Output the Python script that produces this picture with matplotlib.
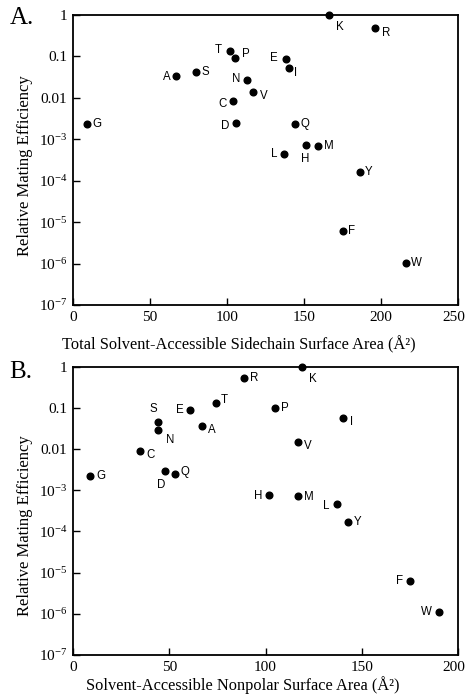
import matplotlib
matplotlib.use("Agg")
import matplotlib.pyplot as plt
import matplotlib.transforms as mtransforms
import numpy as np

# Data: amino acid, surface area (Å²), relative mating efficiency
residues_a = ["K", "R", "T", "P", "E", "I", "S", "A", "N", "V",
              "C", "G", "D", "Q", "H", "M", "L", "Y", "F", "W"]
area_total = [166, 196, 102, 105, 138, 140, 80, 67, 113, 117,
              104, 9, 106, 144, 151, 159, 137, 186, 175, 216]
eff_a = [1.0, 0.49, 0.135, 0.092, 0.085, 0.053, 0.043, 0.034, 0.027, 0.014,
         0.0085, 0.0023, 0.0025, 0.0023, 7.2e-4, 6.9e-4, 4.3e-4, 1.6e-4, 6.2e-6, 1.05e-6]

residues_b = ["K", "R", "T", "E", "P", "I", "S", "A", "N", "V",
              "C", "G", "D", "Q", "H", "M", "L", "Y", "F", "W"]
area_nonpolar = [119, 89, 74, 61, 105, 140, 44, 67, 44, 117,
                 35, 9, 48, 53, 102, 117, 137, 143, 175, 190]
eff_b = [1.0, 0.52, 0.134, 0.089, 0.098, 0.058, 0.046, 0.036, 0.029, 0.015,
         0.0091, 0.0022, 0.0029, 0.0025, 7.7e-4, 7.2e-4, 4.6e-4, 1.65e-4, 6.4e-6, 1.1e-6]

yticks = [1e-7, 1e-6, 1e-5, 1e-4, 1e-3, 1e-2, 1e-1, 1]
ytick_labels = [r"$10^{-7}$", r"$10^{-6}$", r"$10^{-5}$", r"$10^{-4}$", r"$10^{-3}$",
                "0.01", "0.1", "1"]

# label offsets (points) and alignment for each letter
offs_a = {"K": (5, -9, "left"), "R": (5, -4, "left"), "T": (-6, 1, "right"),
          "P": (5, 3, "left"), "E": (-6, 1, "right"), "I": (4, -4, "left"),
          "S": (4, 0, "left"), "A": (-4, -1, "right"), "N": (-5, 1, "right"),
          "V": (5, -3, "left"), "C": (-5, -2, "right"), "G": (4, 0, "left"),
          "D": (-5, -2, "right"), "Q": (4, 0, "left"), "H": (0, -10, "center"),
          "M": (4, 0, "left"), "L": (-5, 0, "right"), "Y": (4, 0, "left"),
          "F": (4, 0, "left"), "W": (4, 0, "left")}
offs_b = {"K": (5, -9, "left"), "R": (4, 0, "left"), "T": (4, 2, "left"),
          "E": (-5, 0, "right"), "P": (4, 0, "left"), "I": (5, -3, "left"),
          "S": (-3, 9, "center"), "A": (4, -3, "left"), "N": (6, -7, "left"),
          "V": (4, -3, "left"), "C": (4, -3, "left"), "G": (4, 0, "left"),
          "D": (-3, -10, "center"), "Q": (4, 1, "left"), "H": (-5, -1, "right"),
          "M": (4, -1, "left"), "L": (-5, -1, "right"), "Y": (4, 0, "left"),
          "F": (-5, 0, "right"), "W": (-5, 0, "right")}

plt.rcParams["font.family"] = ["Liberation Serif", "DejaVu Serif"]
plt.rcParams["mathtext.fontset"] = "custom"
plt.rcParams["mathtext.rm"] = "Liberation Serif"
plt.rcParams["mathtext.it"] = "Liberation Serif"

fig = plt.figure(figsize=(4.68, 7.0), dpi=100)
ax_a = fig.add_axes([0.156, 0.5643, 0.823, 0.4143])
ax_b = fig.add_axes([0.156, 0.0643, 0.823, 0.4119])


def panel(ax, names, xs, ys, offs, xmax, xlabel, tag, xlab_pos, ylab_y, tag_y):
    ax.plot(xs, ys, "o", color="black", markersize=4.8, clip_on=False, zorder=3)
    for n, x, y in zip(names, xs, ys):
        dx, dy, ha = offs[n]
        ax.annotate(n, (x, y), xytext=(dx, dy), textcoords="offset points",
                    ha=ha, va="center", fontsize=8.3, family="Liberation Sans")
    ax.set_yscale("log")
    ax.set_ylim(1e-7, 1)
    ax.set_xlim(0, xmax)
    ax.set_yticks(yticks)
    ax.set_yticklabels(ytick_labels)
    ax.minorticks_off()
    ax.set_xticks(np.arange(0, xmax + 1, 50))
    ax.tick_params(direction="in", length=5, width=1, labelsize=11, pad=4)
    # last x label sits a little left of its tick, as in the original
    last = ax.xaxis.get_major_ticks()[-1].label1
    last.set_transform(last.get_transform() +
                       mtransforms.ScaledTranslation(-3 / 72, 0, fig.dpi_scale_trans))
    for s in ax.spines.values():
        s.set_linewidth(1.3)
    ax.set_xlabel(xlabel, fontsize=11.8)
    ax.xaxis.set_label_coords(*xlab_pos)
    ax.set_ylabel("Relative Mating Efficiency", fontsize=12)
    ax.yaxis.set_label_coords(-0.104, ylab_y)
    ax.text(-0.165, tag_y, tag, transform=ax.transAxes, fontsize=18,
            ha="left", va="center")


panel(ax_a, residues_a, area_total, eff_a, offs_a, 250,
      "Total Solvent-Accessible Sidechain Surface Area (Å²)", "A.",
      (0.43, -0.105), 0.48, 0.99)
panel(ax_b, residues_b, area_nonpolar, eff_b, offs_b, 200,
      "Solvent-Accessible Nonpolar Surface Area (Å²)", "B.",
      (0.44, -0.075), 0.45, 0.98)

fig.savefig("out.png", dpi=100)
